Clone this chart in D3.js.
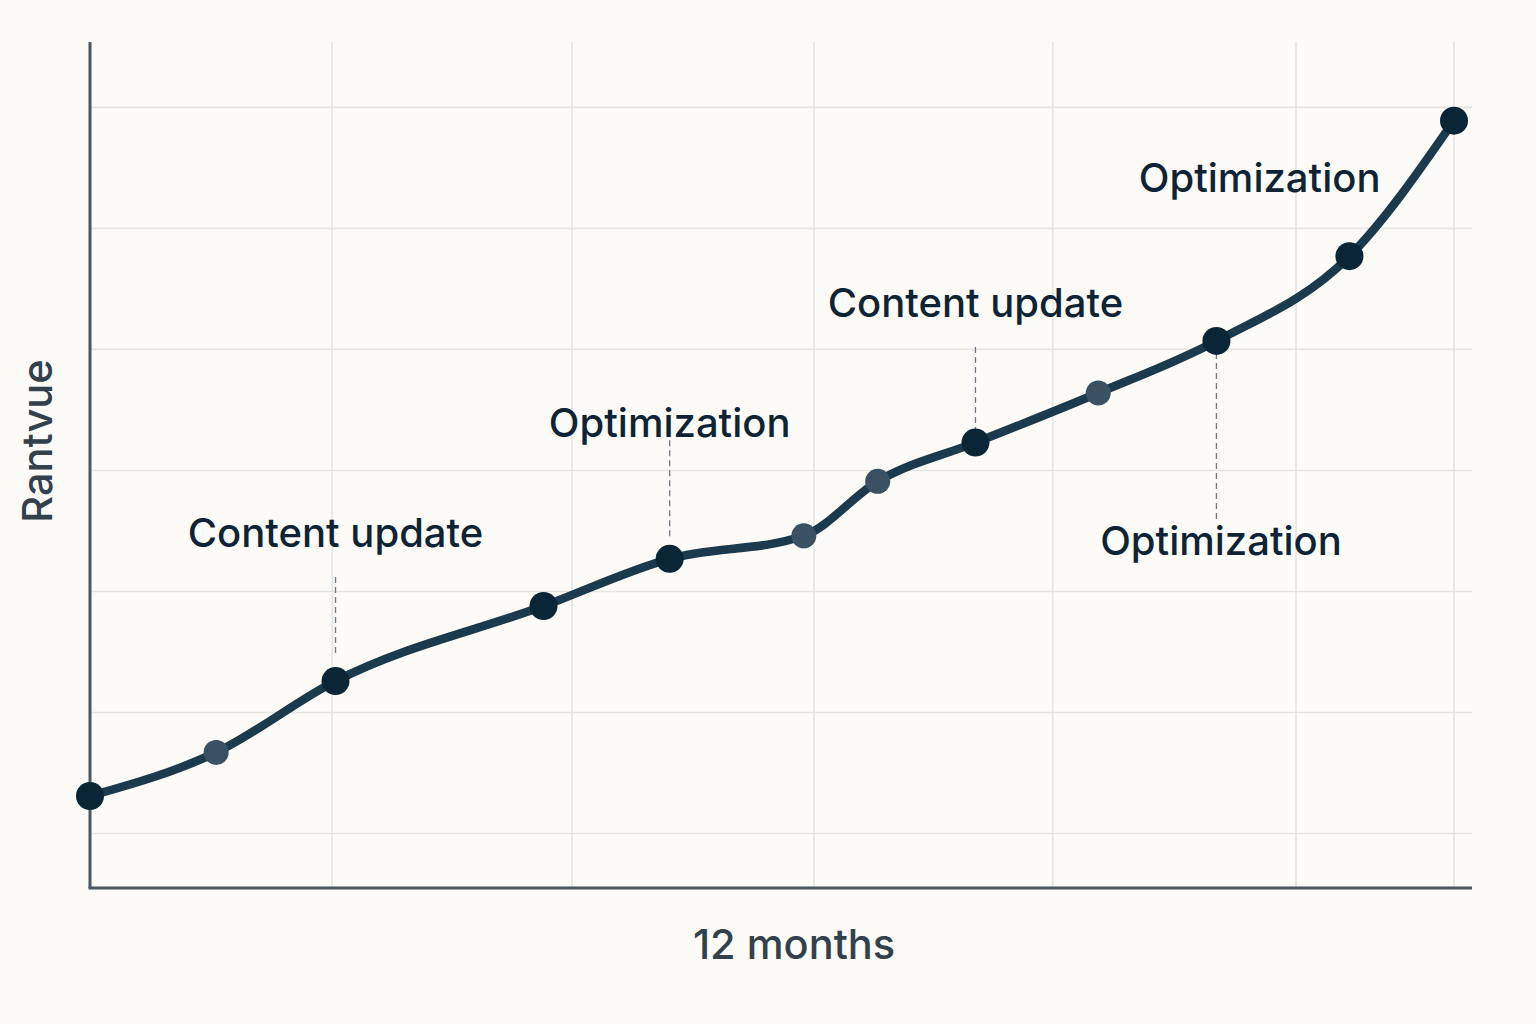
<!DOCTYPE html>
<html>
<head>
<meta charset="utf-8">
<script src="https://cdn.jsdelivr.net/npm/d3@7"></script>
<style>
  html, body { margin: 0; padding: 0; background: #fcfbf7; }
  svg { display: block; }
  .grid line { stroke: #e5e5e2; stroke-width: 1.6; }
  .ax { stroke: #4b5761; stroke-width: 3; }
  .lbl { font-family: Inter, "Noto Sans", sans-serif; font-weight: 500; fill: #0e2435; }
  .axlbl { font-family: Inter, "Noto Sans", sans-serif; font-weight: 500; fill: #33414d; }
  .lead { stroke: #707a84; stroke-width: 1.3; stroke-dasharray: 6 4; }
</style>
</head>
<body>
<svg id="chart"></svg>
<script>
// month position of each reading (0..12) and the rank value (grid units)
const months = [0, 1.11, 2.16, 3.99, 5.10, 6.28, 6.93, 7.79, 8.87, 9.91, 11.08, 12.0];
const rank = [1.31, 1.67, 2.26, 2.88, 3.27, 3.46, 3.91, 4.23, 4.64, 5.07, 5.77, 6.89];
// lighter markers in the picture
const lightPts = [1, 5, 6, 8];

const xGrid = [2.13, 4.24, 6.37, 8.47, 10.61, 12.0];
const yGrid = [1, 2, 3, 4, 5, 6, 7];

// annotations: index of point, label, text baseline, dashed lead ends (grid units)
const notes = [
  { i: 2, text: 'Content update', ty: 3.37, y0: 3.12, y1: 2.46 },
  { i: 4, text: 'Optimization', ty: 4.28, y0: 4.25, y1: 3.43 },
  { i: 7, text: 'Content update', ty: 5.27, y0: 5.02, y1: 4.33 },
  { i: 9, text: 'Optimization', ty: 3.30, y0: 4.97, y1: 3.58, dx: 0.04 },
  { i: 10, text: 'Optimization', ty: 6.30, y0: null, y1: null, dx: -0.79 },
];

const W = 1536, H = 1024;
const svg = d3.select('#chart').attr('width', W).attr('height', H);

const x = d3.scaleLinear().domain([0, 12]).range([90, 1454]);
const y = d3.scaleLinear().domain([0.55, 7.54]).range([888, 42]);

svg.append('rect').attr('width', W).attr('height', H).attr('fill', '#fcfbf7');

// grid
const g = svg.append('g').attr('class', 'grid');
g.selectAll('.gx').data(xGrid).join('line').attr('class', 'gx')
  .attr('x1', (d) => x(d)).attr('x2', (d) => x(d))
  .attr('y1', y.range()[1]).attr('y2', y.range()[0]);
g.selectAll('.gy').data(yGrid).join('line').attr('class', 'gy')
  .attr('x1', x(0)).attr('x2', 1472)
  .attr('y1', (d) => y(d)).attr('y2', (d) => y(d));

// axes
svg.append('line').attr('class', 'ax')
  .attr('x1', x(0)).attr('x2', x(0)).attr('y1', y.range()[1]).attr('y2', y.range()[0]);
svg.append('line').attr('class', 'ax')
  .attr('x1', x(0) - 1.5).attr('x2', 1472).attr('y1', y.range()[0]).attr('y2', y.range()[0]);

// dashed leads
svg.selectAll('.lead').data(notes.filter((n) => n.y0 !== null)).join('line')
  .attr('class', 'lead')
  .attr('x1', (d) => x(months[d.i])).attr('x2', (d) => x(months[d.i]))
  .attr('y1', (d) => y(d.y0)).attr('y2', (d) => y(d.y1));

// line
const pts = months.map((m, i) => [m, rank[i]]);
svg.append('path').datum(pts)
  .attr('fill', 'none').attr('stroke', '#1c3a4d').attr('stroke-width', 8.5)
  .attr('stroke-linecap', 'round').attr('stroke-linejoin', 'round')
  .attr('d', d3.line().x((d) => x(d[0])).y((d) => y(d[1])).curve(d3.curveMonotoneX));

// markers
svg.selectAll('.pt').data(pts).join('circle')
  .attr('class', 'pt')
  .attr('cx', (d) => x(d[0])).attr('cy', (d) => y(d[1]))
  .attr('r', (d, i) => (lightPts.includes(i) ? 12.5 : 14))
  .attr('fill', (d, i) => (lightPts.includes(i) ? '#3a5063' : '#0a2636'));

// labels
svg.selectAll('.lbl').data(notes).join('text')
  .attr('class', 'lbl')
  .attr('x', (d) => x(months[d.i] + (d.dx || 0)))
  .attr('y', (d) => y(d.ty))
  .attr('text-anchor', 'middle')
  .attr('font-size', 40)
  .text((d) => d.text);

// axis titles
svg.append('text').attr('class', 'axlbl')
  .attr('x', 794).attr('y', 959).attr('text-anchor', 'middle').attr('font-size', 41.5)
  .text('12 months');
svg.append('text').attr('class', 'axlbl')
  .attr('transform', 'translate(52,441) rotate(-90)').attr('text-anchor', 'middle')
  .attr('font-size', 41.5)
  .text('Rantvue');
</script>
</body>
</html>
